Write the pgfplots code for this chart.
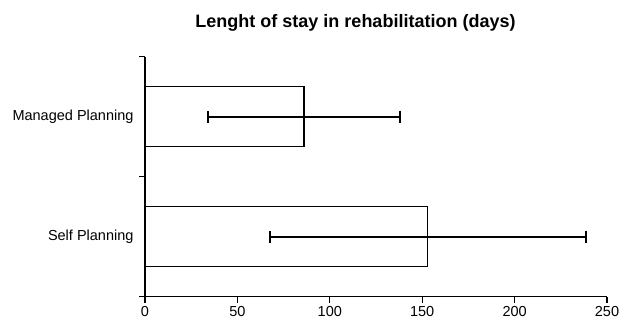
\documentclass[border=0pt]{standalone}
\usepackage{pgfplots}
\pgfplotsset{compat=1.18}
\usepackage{fontspec}
\setmainfont{Liberation Sans}
\begin{document}
\begin{tikzpicture}
\begin{axis}[
  scale only axis,
  width=462pt, height=240pt,
  at={(0,0)}, anchor=origin,
  xmin=0, xmax=250, ymin=0, ymax=2,
  axis x line*=bottom, axis y line*=left,
  axis line style={line width=1.3pt, -},
  axis on top,
  xtick={0,50,...,250},
  ytick={0.5,1.5},
  yticklabels={Self Planning, Managed Planning},
  minor ytick={0,1,2},
  tick align=outside,
  major tick length=6pt,
  minor tick length=6pt,
  y tick style={draw=none},
  minor y tick style={draw=black, line width=1.3pt},
  x tick style={line width=1.3pt, black},
  tick label style={font=\fontsize{14.5}{17}\selectfont},
  yticklabel style={xshift=-2pt},
  /pgf/number format/assume math mode=true,
  xbar, bar width=0.5,
  clip=false,
]
\addplot[draw=black, fill=white, line width=1.2pt,
  error bars/.cd, x dir=both, x explicit,
  error bar style={line width=1.8pt, black},
  error mark options={mark size=6pt, line width=1.8pt, rotate=90}]
  coordinates {(153,0.5) +- (85.5,0) (86,1.5) +- (52,0)};
\end{axis}
\node[font=\bfseries\fontsize{18}{21}\selectfont] at (210.5pt,274.2pt) {Lenght of stay in rehabilitation (days)};
\pgfresetboundingbox
\path (-145pt,-28.3pt) rectangle (476pt,296.7pt);
\end{tikzpicture}
\end{document}
